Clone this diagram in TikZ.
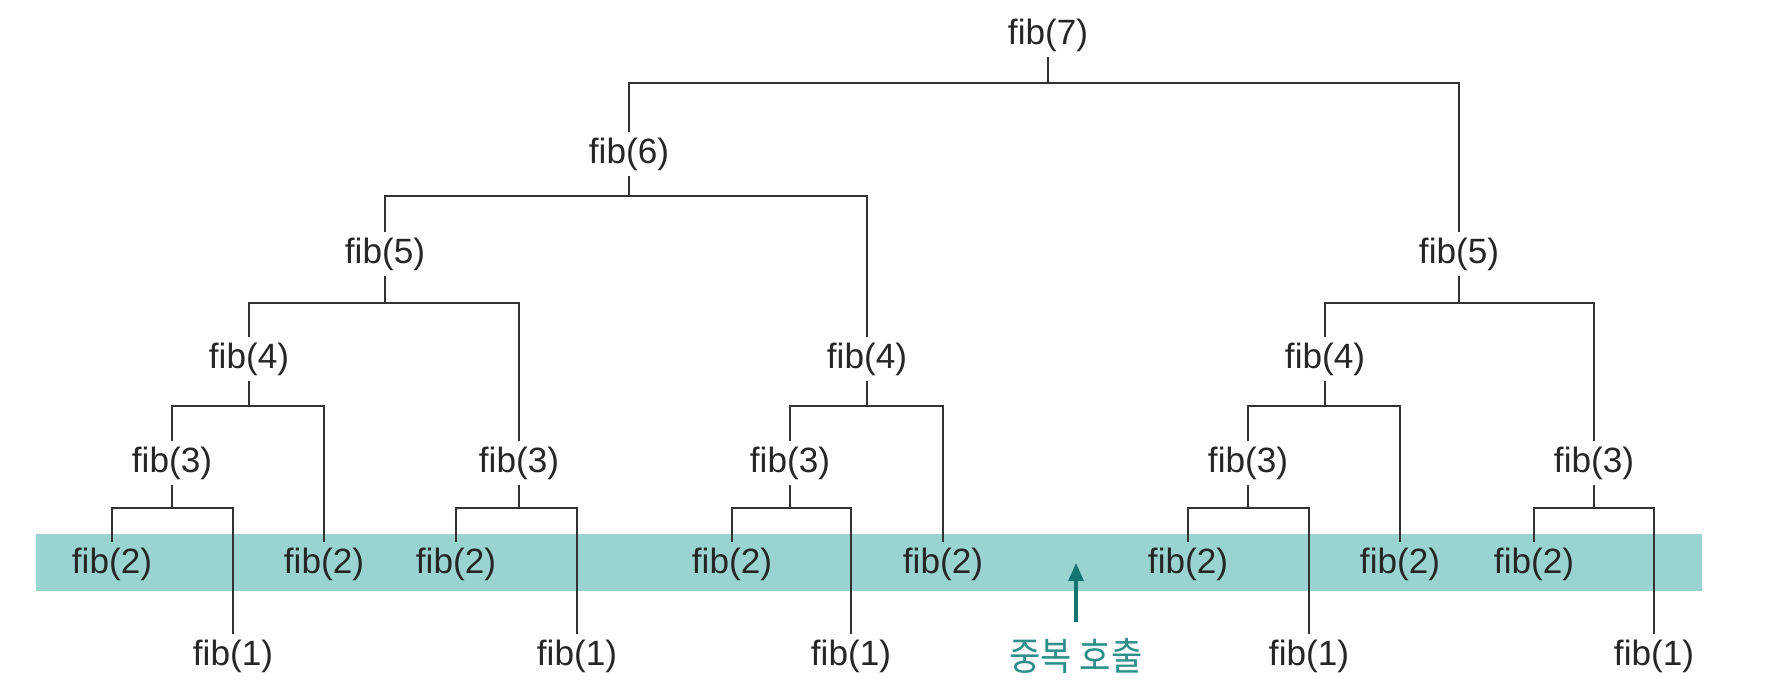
\documentclass[tikz,border=0pt]{standalone}
\usepackage{fontspec}
\setmainfont{Liberation Sans}
\newfontfamily\krfont[FakeStretch=0.88]{Noto Sans CJK KR}
\usetikzlibrary{arrows.meta,calc}

\definecolor{bandteal}{HTML}{9AD4D1}
\definecolor{arrowteal}{HTML}{137570}
\definecolor{labelteal}{HTML}{2E8F8A}

\tikzset{
  call/.style={inner sep=0.5mm, font=\fontsize{10}{12}\selectfont, text=black!85},
  branch/.style={to path={(\tikztostart.south) -- ($(\tikztostart)+(0,#1)$) -| (\tikztotarget.north)}},
  branch/.default=47
}

\begin{document}
\begin{tikzpicture}[x=0.1mm, y=-0.1mm, line width=0.6pt, draw=black!80]
  \useasboundingbox (0,0) rectangle (1774,694);

  % band of repeated calls
  \fill[bandteal] (36,534) rectangle (1702,591);

  \node[call] (f7) at (1048,35) {fib(7)};
  \node[call] (f6) at (629,154) {fib(6)};
  \node[call] (f5a) at (385,254) {fib(5)};
  \node[call] (f5b) at (1459,254) {fib(5)};
  \node[call] (f4a) at (249,359) {fib(4)};
  \node[call] (f4b) at (867,359) {fib(4)};
  \node[call] (f4c) at (1325,359) {fib(4)};
  \node[call] (f3a) at (172,463) {fib(3)};
  \node[call] (f3b) at (519,463) {fib(3)};
  \node[call] (f3c) at (790,463) {fib(3)};
  \node[call] (f3d) at (1248,463) {fib(3)};
  \node[call] (f3e) at (1594,463) {fib(3)};
  \node[call] (f2a) at (112,564) {fib(2)};
  \node[call] (f2b) at (324,564) {fib(2)};
  \node[call] (f2c) at (456,564) {fib(2)};
  \node[call] (f2d) at (732,564) {fib(2)};
  \node[call] (f2e) at (943,564) {fib(2)};
  \node[call] (f2f) at (1188,564) {fib(2)};
  \node[call] (f2g) at (1400,564) {fib(2)};
  \node[call] (f2h) at (1534,564) {fib(2)};
  \node[call] (f1a) at (233,656) {fib(1)};
  \node[call] (f1b) at (577,656) {fib(1)};
  \node[call] (f1c) at (851,656) {fib(1)};
  \node[call] (f1d) at (1309,656) {fib(1)};
  \node[call] (f1e) at (1654,656) {fib(1)};

  \draw (f7) to[branch=48] (f6) (f7) to[branch=48] (f5b);
  \draw (f6) to[branch=42] (f5a) (f6) to[branch=42] (f4b);
  \draw (f5a) to[branch=49] (f4a) (f5a) to[branch=49] (f3b);
  \draw (f5b) to[branch=49] (f4c) (f5b) to[branch=49] (f3e);
  \draw (f4a) to[branch=47] (f3a) (f4a) to[branch=47] (f2b);
  \draw (f4b) to[branch=47] (f3c) (f4b) to[branch=47] (f2e);
  \draw (f4c) to[branch=47] (f3d) (f4c) to[branch=47] (f2g);
  \draw (f3a) to[branch=45] (f2a) (f3a) to[branch=45] (f1a);
  \draw (f3b) to[branch=45] (f2c) (f3b) to[branch=45] (f1b);
  \draw (f3c) to[branch=45] (f2d) (f3c) to[branch=45] (f1c);
  \draw (f3d) to[branch=45] (f2f) (f3d) to[branch=45] (f1d);
  \draw (f3e) to[branch=45] (f2h) (f3e) to[branch=45] (f1e);

  \node[inner sep=0.15mm, text=labelteal, font=\krfont\fontsize{11}{13}\selectfont] (dup) at (1076,656) {중복 호출};
  \coordinate (duptip) at (1076,563);
  \draw[arrowteal, line width=0.9pt, shorten <=1.4mm, -{Triangle[length=1.8mm, width=1.5mm]}] (dup.north) -- (duptip);
\end{tikzpicture}
\end{document}
